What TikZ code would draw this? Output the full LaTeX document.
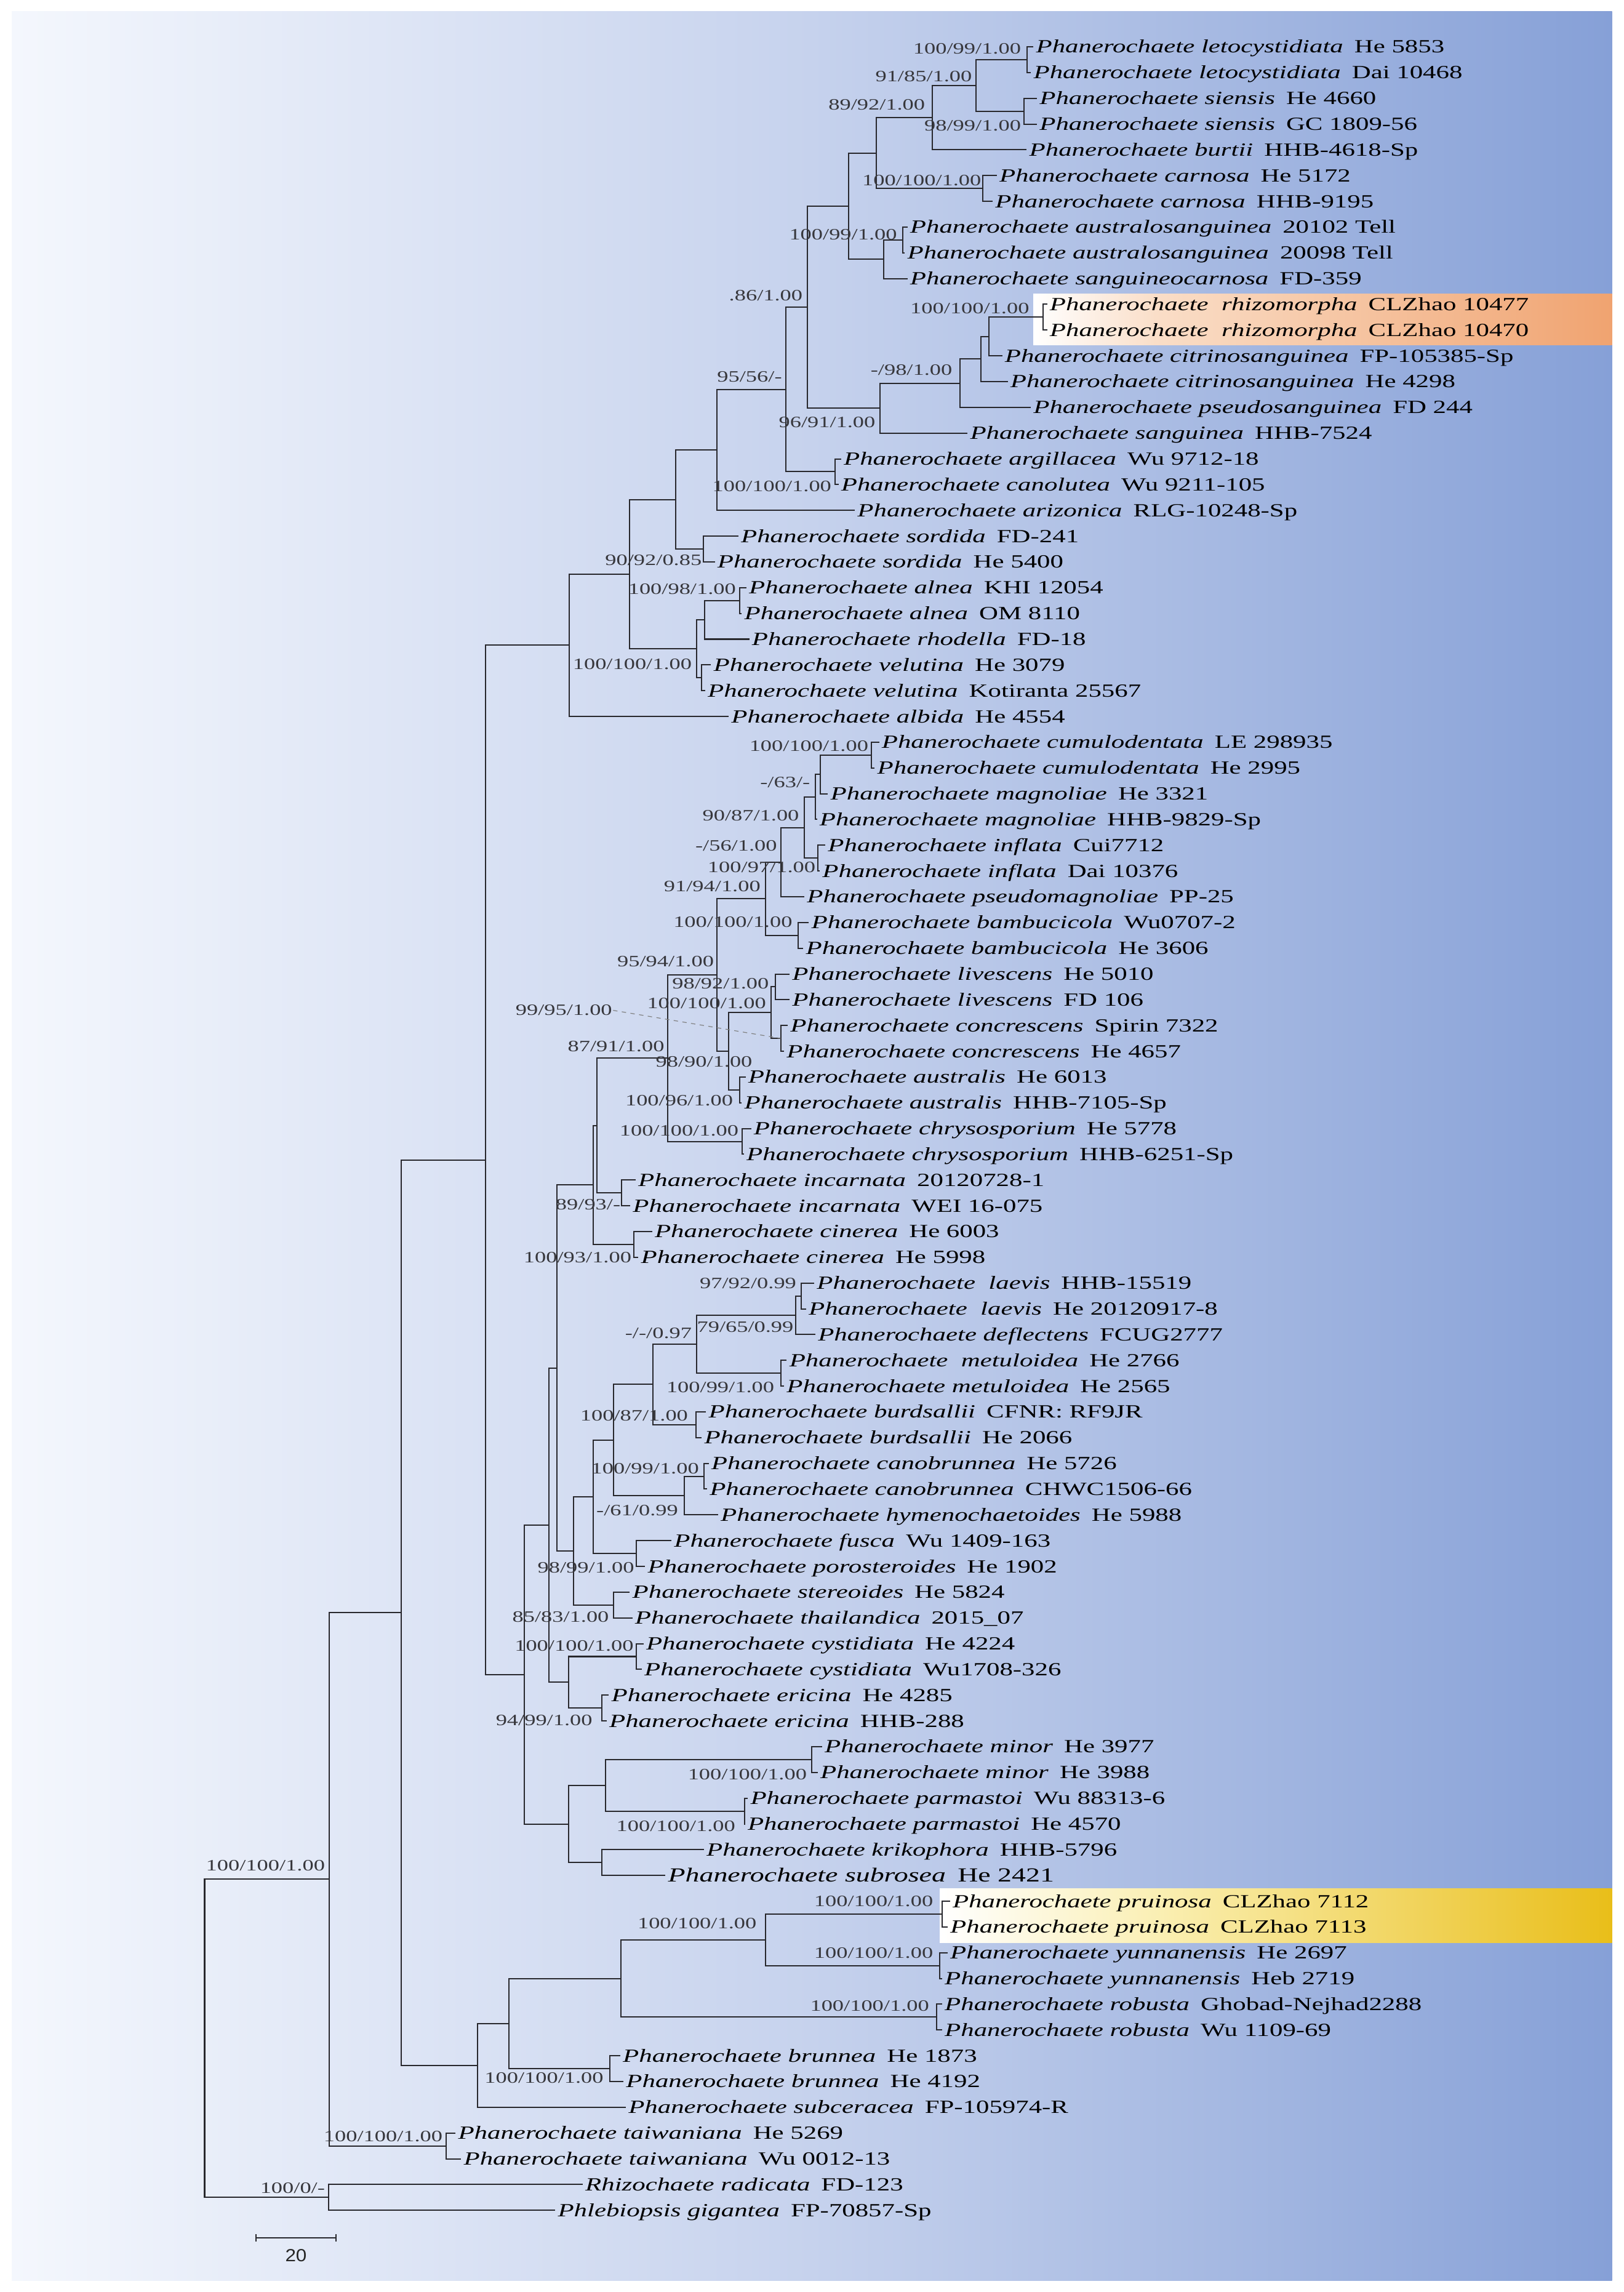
\documentclass[tikz,border=0pt]{standalone}
\usepackage{fontspec}
\setmainfont{Liberation Serif}[FakeStretch=1.42]
\newfontfamily\barfont{Liberation Sans}[FakeStretch=1.1]
\usetikzlibrary{calc}
\definecolor{bgL}{RGB}{244,247,253}
\definecolor{bgM}{RGB}{198,210,237}
\definecolor{bgR}{RGB}{134,160,215}
\definecolor{orM}{RGB}{250,222,200}
\definecolor{orR}{RGB}{240,163,112}
\definecolor{yeM}{RGB}{250,238,175}
\definecolor{yeR}{RGB}{233,190,25}
\definecolor{brc}{RGB}{40,40,45}
\definecolor{supc}{RGB}{55,55,60}
% internal node: name, x, child1, child2
\newcommand\tjn[4]{\path let \p1=($(#3)!0.5!(#4)$) in coordinate (#1) at (#2pt,\y1);
  \draw[br] (#3) -| (#1) |- (#4);}
% leaf: index, label start x, taxon, specimen
\newcommand\tlf[4]{\coordinate (L#1) at ({#2-1.5},{32+(#1-1)*17.62});
  \node[sp] (T#1) at (L#1) {\textit{#3}\hspace{0.6em}#4};}
% support value: name, right x, y, text
\newcommand\tsp[4]{\node[bsl] (#1) at (#2,#3) {#4};}
\begin{document}
\begin{tikzpicture}[x=1pt,y=-1pt,
  br/.style={draw=brc,line width=0.85pt},
  sp/.style={anchor=base west,inner xsep=1.6pt,inner ysep=0pt,yshift=-4.2pt,font=\fontsize{12.7}{14}\selectfont,text=black},
  bsl/.style={anchor=base east,inner xsep=0.5pt,inner ysep=0pt,yshift=-3.6pt,font=\fontsize{10.8}{12}\selectfont,text=supc},
  leader/.style={draw=gray,line width=0.5pt,dashed}]
\useasboundingbox (0,0) rectangle (1111,1568);
\fill[white] (0,0) rectangle (1111,1568);
\shade[left color=bgL,right color=bgM] (8,8) rectangle (556,1560);
\shade[left color=bgM,right color=bgR] (555,8) rectangle (1103,1560);
% highlights
\shade[left color=white,right color=orM] (707,201) rectangle (791,236);
\shade[left color=orM,right color=orR] (790,201) rectangle (1103,236);
\shade[left color=white,right color=yeM] (643,1292) rectangle (801,1329);
\shade[left color=yeM,right color=yeR] (800,1292) rectangle (1103,1329);

% leaves
\tlf{1}{708.6}{Phanerochaete letocystidiata}{He 5853}
\tlf{2}{706.9}{Phanerochaete letocystidiata}{Dai 10468}
\tlf{3}{711}{Phanerochaete siensis}{He 4660}
\tlf{4}{711}{Phanerochaete siensis}{GC 1809-56}
\tlf{5}{704}{Phanerochaete burtii}{HHB-4618-Sp}
\tlf{6}{683.5}{Phanerochaete carnosa}{He 5172}
\tlf{7}{680.7}{Phanerochaete carnosa}{HHB-9195}
\tlf{8}{622.4}{Phanerochaete australosanguinea}{20102 Tell}
\tlf{9}{620.6}{Phanerochaete australosanguinea}{20098 Tell}
\tlf{10}{622.4}{Phanerochaete sanguineocarnosa}{FD-359}
\tlf{11}{718}{Phanerochaete\ \ rhizomorpha}{CLZhao 10477}
\tlf{12}{718}{Phanerochaete\ \ rhizomorpha}{CLZhao 10470}
\tlf{13}{687.2}{Phanerochaete citrinosanguinea}{FP-105385-Sp}
\tlf{14}{691}{Phanerochaete citrinosanguinea}{He 4298}
\tlf{15}{706.8}{Phanerochaete pseudosanguinea}{FD 244}
\tlf{16}{663.5}{Phanerochaete sanguinea}{HHB-7524}
\tlf{17}{577}{Phanerochaete argillacea}{Wu 9712-18}
\tlf{18}{575.2}{Phanerochaete canolutea}{Wu 9211-105}
\tlf{19}{586.4}{Phanerochaete arizonica}{RLG-10248-Sp}
\tlf{20}{506.7}{Phanerochaete sordida}{FD-241}
\tlf{21}{490.6}{Phanerochaete sordida}{He 5400}
\tlf{22}{512.2}{Phanerochaete alnea}{KHI 12054}
\tlf{23}{509}{Phanerochaete alnea}{OM 8110}
\tlf{24}{514.2}{Phanerochaete rhodella}{FD-18}
\tlf{25}{488}{Phanerochaete velutina}{He 3079}
\tlf{26}{484}{Phanerochaete velutina}{Kotiranta 25567}
\tlf{27}{500.1}{Phanerochaete albida}{He 4554}
\tlf{28}{603}{Phanerochaete cumulodentata}{LE 298935}
\tlf{29}{600}{Phanerochaete cumulodentata}{He 2995}
\tlf{30}{568}{Phanerochaete magnoliae}{He 3321}
\tlf{31}{560.5}{Phanerochaete magnoliae}{HHB-9829-Sp}
\tlf{32}{566.2}{Phanerochaete inflata}{Cui7712}
\tlf{33}{562.4}{Phanerochaete inflata}{Dai 10376}
\tlf{34}{551.9}{Phanerochaete pseudomagnoliae}{PP-25}
\tlf{35}{554.9}{Phanerochaete bambucicola}{Wu0707-2}
\tlf{36}{551.1}{Phanerochaete bambucicola}{He 3606}
\tlf{37}{541.7}{Phanerochaete livescens}{He 5010}
\tlf{38}{541.7}{Phanerochaete livescens}{FD 106}
\tlf{39}{540.5}{Phanerochaete concrescens}{Spirin 7322}
\tlf{40}{538}{Phanerochaete concrescens}{He 4657}
\tlf{41}{511.6}{Phanerochaete australis}{He 6013}
\tlf{42}{509}{Phanerochaete australis}{HHB-7105-Sp}
\tlf{43}{515.4}{Phanerochaete chrysosporium}{He 5778}
\tlf{44}{510.5}{Phanerochaete chrysosporium}{HHB-6251-Sp}
\tlf{45}{436.4}{Phanerochaete incarnata}{20120728-1}
\tlf{46}{432.7}{Phanerochaete incarnata}{WEI 16-075}
\tlf{47}{447.7}{Phanerochaete cinerea}{He 6003}
\tlf{48}{438.3}{Phanerochaete cinerea}{He 5998}
\tlf{49}{558.6}{Phanerochaete\ \ laevis}{HHB-15519}
\tlf{50}{553}{Phanerochaete\ \ laevis}{He 20120917-8}
\tlf{51}{559.4}{Phanerochaete deflectens}{FCUG2777}
\tlf{52}{539.8}{Phanerochaete\ \ metuloidea}{He 2766}
\tlf{53}{538}{Phanerochaete metuloidea}{He 2565}
\tlf{54}{484.6}{Phanerochaete burdsallii}{CFNR: RF9JR}
\tlf{55}{481.6}{Phanerochaete burdsallii}{He 2066}
\tlf{56}{486.4}{Phanerochaete canobrunnea}{He 5726}
\tlf{57}{485.3}{Phanerochaete canobrunnea}{CHWC1506-66}
\tlf{58}{492.8}{Phanerochaete hymenochaetoides}{He 5988}
\tlf{59}{460.9}{Phanerochaete fusca}{Wu 1409-163}
\tlf{60}{442.9}{Phanerochaete porosteroides}{He 1902}
\tlf{61}{432.4}{Phanerochaete stereoides}{He 5824}
\tlf{62}{434.2}{Phanerochaete thailandica}{2015\_07}
\tlf{63}{441.8}{Phanerochaete cystidiata}{He 4224}
\tlf{64}{440.6}{Phanerochaete cystidiata}{Wu1708-326}
\tlf{65}{418.1}{Phanerochaete ericina}{He 4285}
\tlf{66}{416.6}{Phanerochaete ericina}{HHB-288}
\tlf{67}{564}{Phanerochaete minor}{He 3977}
\tlf{68}{561}{Phanerochaete minor}{He 3988}
\tlf{69}{513.2}{Phanerochaete parmastoi}{Wu 88313-6}
\tlf{70}{511.3}{Phanerochaete parmastoi}{He 4570}
\tlf{71}{483.1}{Phanerochaete krikophora}{HHB-5796}
\coordinate (L72) at (455.3,{32+71*17.62});
\node[sp,font=\fontsize{13.6}{15}\selectfont] (T72) at (L72) {\textit{Phanerochaete subrosea}\hspace{0.6em}He 2421};
\tlf{73}{651.5}{Phanerochaete pruinosa}{CLZhao 7112}
\tlf{74}{649.9}{Phanerochaete pruinosa}{CLZhao 7113}
\tlf{75}{649.9}{Phanerochaete yunnanensis}{He 2697}
\tlf{76}{646.1}{Phanerochaete yunnanensis}{Heb 2719}
\tlf{77}{646.1}{Phanerochaete robusta}{Ghobad-Nejhad2288}
\tlf{78}{646.1}{Phanerochaete robusta}{Wu 1109-69}
\tlf{79}{425.9}{Phanerochaete brunnea}{He 1873}
\tlf{80}{428.1}{Phanerochaete brunnea}{He 4192}
\tlf{81}{429.7}{Phanerochaete subceracea}{FP-105974-R}
\tlf{82}{313.2}{Phanerochaete taiwaniana}{He 5269}
\tlf{83}{317}{Phanerochaete taiwaniana}{Wu 0012-13}
\tlf{84}{400.2}{Rhizochaete radicata}{FD-123}
\tlf{85}{381.4}{Phlebiopsis gigantea}{FP-70857-Sp}

% internal nodes
\tjn{nLE}{702.7}{L1}{L2}
\tjn{nSI}{700.6}{L3}{L4}
\tjn{nLS}{667.8}{nLE}{nSI}
\tjn{nLSB}{637.7}{nLS}{L5}
\tjn{nCA}{672.3}{L6}{L7}
\tjn{nTT}{599.7}{nLSB}{nCA}
\tjn{nAU}{617.5}{L8}{L9}
\tjn{nAS}{604.6}{nAU}{L10}
\tjn{nTO}{580.5}{nTT}{nAS}
\tjn{nRH}{713.6}{L11}{L12}
\tjn{nRC}{676.7}{nRH}{L13}
\tjn{nRD}{671}{nRC}{L14}
\tjn{nRP}{657}{nRD}{L15}
\tjn{nRS}{602}{nRP}{L16}
\tjn{nA}{552.6}{nTO}{nRS}
\tjn{nAC}{571.4}{L17}{L18}
\tjn{nB}{537.6}{nA}{nAC}
\tjn{nC}{490.6}{nB}{L19}
\tjn{nSO}{481.2}{L20}{L21}
\tjn{nD}{462.4}{nC}{nSO}
\tjn{nAL}{506.2}{L22}{L23}
\tjn{nAR}{482}{nAL}{L24}
\tjn{nVE}{480}{L25}{L26}
\tjn{nF}{476.8}{nAR}{nVE}
\tjn{nE}{430.9}{nD}{nF}
\tjn{nG}{389.3}{nE}{L27}

\tjn{nCU}{596.2}{L28}{L29}
\tjn{nMa}{561.3}{nCU}{L30}
\tjn{nMb}{557.8}{nMa}{L31}
\tjn{nIN}{559.5}{L32}{L33}
\tjn{nMc}{550.4}{nMb}{nIN}
\tjn{nMd}{534.2}{nMc}{L34}
\tjn{nBA}{546.3}{L35}{L36}
\tjn{nMe}{523.7}{nMd}{nBA}
\tjn{nLV}{530.4}{L37}{L38}
\tjn{nCO}{534.2}{L39}{L40}
\tjn{nLCC}{527.5}{nLV}{nCO}
\tjn{nAUS}{506}{L41}{L42}
\tjn{nLCA}{498.5}{nLCC}{nAUS}
\tjn{nMf}{490.6}{nMe}{nLCA}
\tjn{nCH}{507.9}{L43}{L44}
\tjn{nMg}{457}{nMf}{nCH}
\tjn{nIC}{425.2}{L45}{L46}
\tjn{nMh}{408.3}{nMg}{nIC}
\tjn{nCI}{433.5}{L47}{L48}
\tjn{nMi}{405.7}{nMh}{nCI}
\tjn{nLA}{548.1}{L49}{L50}
\tjn{nLb}{544.4}{nLA}{L51}
\tjn{nMET}{534.2}{L52}{L53}
\tjn{nLc}{476.7}{nLb}{nMET}
\tjn{nBU}{476.4}{L54}{L55}
\tjn{nMo}{446.9}{nLc}{nBU}
\tjn{nCB}{481.6}{L56}{L57}
\tjn{nCHY}{468.1}{nCB}{L58}
\tjn{nMn}{419.6}{nMo}{nCHY}
\tjn{nFP}{435.5}{L59}{L60}
\tjn{nMm}{405.7}{nMn}{nFP}
\tjn{nST}{419.6}{L61}{L62}
\tjn{nMl}{392.4}{nMm}{nST}
\tjn{nMj}{381.1}{nMi}{nMl}
\tjn{nCY}{435.2}{L63}{L64}
\tjn{nER}{411.7}{L65}{L66}
\tjn{nCE}{389.1}{nCY}{nER}
\tjn{nMk}{375.4}{nMj}{nCE}
\tjn{nMI}{555.3}{L67}{L68}
\tjn{nPA}{509.5}{L69}{L70}
\tjn{nMP}{414.3}{nMI}{nPA}
\tjn{nKS}{411.7}{L71}{L72}
\tjn{nMK}{389.1}{nMP}{nKS}
\tjn{nNa}{358.9}{nMk}{nMK}
\tjn{nH}{332.2}{nG}{nNa}

\tjn{nPR}{644.5}{L73}{L74}
\tjn{nYU}{642.9}{L75}{L76}
\tjn{nU}{523.7}{nPR}{nYU}
\tjn{nRO}{640.7}{L77}{L78}
\tjn{nS}{424.7}{nU}{nRO}
\tjn{nBR}{417.1}{L79}{L80}
\tjn{nQ}{348.2}{nS}{nBR}
\tjn{nP}{326.6}{nQ}{L81}
\tjn{nI}{274.5}{nH}{nP}
\tjn{nTA}{305.4}{L82}{L83}
\tjn{nJ}{225.3}{nI}{nTA}
\tjn{nO}{225}{L84}{L85}
\tjn{nR}{140}{nJ}{nO}

% support values
\tsp{S1}{699.2}{33.4}{100/99/1.00}
\tsp{S2}{665.7}{52}{91/85/1.00}
\tsp{S3}{633.6}{71.7}{89/92/1.00}
\tsp{S4}{699.2}{85.8}{98/99/1.00}
\tsp{S5}{672}{123.4}{100/100/1.00}
\tsp{S6}{614.4}{160.2}{100/99/1.00}
\tsp{S7}{549.8}{202}{.86/1.00}
\tsp{S8}{704.9}{211.1}{100/100/1.00}
\tsp{S9}{652.2}{253.2}{-/98/1.00}
\tsp{S10}{535.7}{257.5}{95/56/-}
\tsp{S11}{599.6}{288.9}{96/91/1.00}
\tsp{S12}{569.5}{332.4}{100/100/1.00}
\tsp{S13}{480.8}{383}{90/92/0.85}
\tsp{S14}{504.2}{403.1}{100/98/1.00}
\tsp{S15}{474}{454.1}{100/100/1.00}
\tsp{S16}{594.8}{510.1}{100/100/1.00}
\tsp{S17}{554.9}{535.3}{-/63/-}
\tsp{S18}{547.4}{558}{90/87/1.00}
\tsp{S19}{532.3}{578.5}{-/56/1.00}
\tsp{S20}{558.6}{593.4}{100/97/1.00}
\tsp{S21}{521}{606.1}{91/94/1.00}
\tsp{S22}{542.8}{630.9}{100/100/1.00}
\tsp{S23}{489.1}{657.8}{95/94/1.00}
\tsp{S24}{526.7}{672.7}{98/92/1.00}
\tsp{S25}{524.8}{686.1}{100/100/1.00}
\tsp{S26}{419.5}{691.1}{99/95/1.00}
\tsp{S27}{455.2}{715.7}{87/91/1.00}
\tsp{S28}{515.4}{726.4}{98/90/1.00}
\tsp{S29}{502.2}{752.7}{100/96/1.00}
\tsp{S30}{506}{773.4}{100/100/1.00}
\tsp{S31}{425.2}{823.9}{89/93/-}
\tsp{S32}{432.7}{860.2}{100/93/1.00}
\tsp{S33}{545.5}{877.8}{97/92/0.99}
\tsp{S34}{474}{912}{-/-/0.97}
\tsp{S35}{543.6}{907.7}{79/65/0.99}
\tsp{S36}{530.4}{949}{100/99/1.00}
\tsp{S37}{471.4}{968.3}{100/87/1.00}
\tsp{S38}{478.9}{1004.6}{100/99/1.00}
\tsp{S39}{464.6}{1033.1}{-/61/0.99}
\tsp{S40}{434.6}{1072.3}{98/99/1.00}
\tsp{S41}{417.3}{1106.2}{85/83/1.00}
\tsp{S42}{434.2}{1125.8}{100/100/1.00}
\tsp{S43}{406}{1176.9}{94/99/1.00}
\tsp{S44}{552.7}{1213.8}{100/100/1.00}
\tsp{S45}{503.8}{1249.1}{100/100/1.00}
\tsp{S46}{223}{1276.3}{100/100/1.00}
\tsp{S47}{639.1}{1300.6}{100/100/1.00}
\tsp{S48}{518.3}{1315.8}{100/100/1.00}
\tsp{S49}{639.1}{1336}{100/100/1.00}
\tsp{S50}{636.4}{1372}{100/100/1.00}
\tsp{S51}{413.6}{1421.6}{100/100/1.00}
\tsp{S52}{303.5}{1461.5}{100/100/1.00}
\tsp{S53}{223}{1496.9}{100/0/-}
\draw[leader] (S26.east) -- (nCO);

% scale bar
\coordinate (sbL) at (175,1531);
\coordinate (sbR) at (230,1531);
\draw[br] (sbL) -- (sbR);
\draw[br] ($(sbL)+(0,-2.5)$) -- ($(sbL)+(0,2.5)$);
\draw[br] ($(sbR)+(0,-2.5)$) -- ($(sbR)+(0,2.5)$);
\node[font=\barfont\fontsize{12}{14}\selectfont,text=black!85] (sbT) at (202.5,1543) {20};
\end{tikzpicture}
\end{document}
